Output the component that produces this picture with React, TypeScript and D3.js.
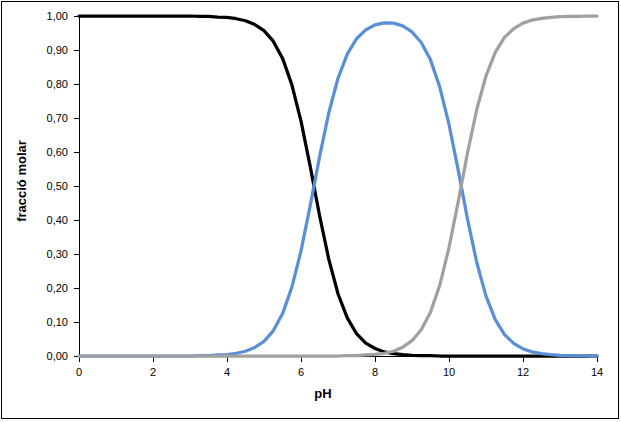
import React, { useEffect, useRef } from 'react';
import * as d3 from 'd3';

// pH values sampled every 0.25
const phValues = d3.range(0, 14.001, 0.25);

// H2CO3 fraction
const acidFraction = [
  1.000, 1.000, 1.000, 1.000, 1.000, 1.000, 1.000, 1.000, 1.000, 1.000, 1.000, 1.000,
  1.000, 0.999, 0.999, 0.997, 0.996, 0.992, 0.986, 0.975, 0.957, 0.926, 0.876, 0.799,
  0.691, 0.557, 0.414, 0.285, 0.183, 0.112, 0.066, 0.038, 0.022, 0.012, 0.007, 0.004,
  0.002, 0.001, 0.001, 0.000, 0.000, 0.000, 0.000, 0.000, 0.000, 0.000, 0.000, 0.000,
  0.000, 0.000, 0.000, 0.000, 0.000, 0.000, 0.000, 0.000, 0.000
];

// HCO3- fraction
const bicarbonateFraction = [
  0.000, 0.000, 0.000, 0.000, 0.000, 0.000, 0.000, 0.000, 0.000, 0.000, 0.000, 0.000,
  0.000, 0.001, 0.001, 0.003, 0.004, 0.008, 0.014, 0.025, 0.043, 0.074, 0.124, 0.201,
  0.309, 0.443, 0.585, 0.715, 0.817, 0.888, 0.933, 0.959, 0.974, 0.980, 0.979, 0.971,
  0.953, 0.922, 0.871, 0.791, 0.681, 0.546, 0.403, 0.275, 0.176, 0.107, 0.063, 0.037,
  0.021, 0.012, 0.007, 0.004, 0.002, 0.001, 0.001, 0.000, 0.000
];

// CO3 2- fraction
const carbonateFraction = [
  0.000, 0.000, 0.000, 0.000, 0.000, 0.000, 0.000, 0.000, 0.000, 0.000, 0.000, 0.000,
  0.000, 0.000, 0.000, 0.000, 0.000, 0.000, 0.000, 0.000, 0.000, 0.000, 0.000, 0.000,
  0.000, 0.000, 0.000, 0.000, 0.000, 0.001, 0.001, 0.003, 0.005, 0.008, 0.014, 0.026,
  0.045, 0.077, 0.129, 0.208, 0.319, 0.454, 0.597, 0.725, 0.824, 0.893, 0.937, 0.963,
  0.979, 0.988, 0.993, 0.996, 0.998, 0.999, 0.999, 1.000, 1.000
];

const xTicks = [0, 2, 4, 6, 8, 10, 12, 14];
const yTicks = [0, 0.1, 0.2, 0.3, 0.4, 0.5, 0.6, 0.7, 0.8, 0.9, 1.0];

const App = () => {
  const ref = useRef<SVGSVGElement>(null);

  useEffect(() => {
    const width = 621;
    const height = 422;
    const svg = d3.select(ref.current);
    svg.selectAll('*').remove();

    const x = d3.scaleLinear().domain([0, 14]).range([79, 597]);
    const y = d3.scaleLinear().domain([0, 1]).range([356, 16]);

    svg.append('rect')
      .attr('x', 1.5).attr('y', 1.5)
      .attr('width', 617).attr('height', 417)
      .attr('fill', 'white').attr('stroke', 'black').attr('stroke-width', 1);

    const font = 'Arial, "Liberation Sans", sans-serif';

    // y axis
    svg.append('line')
      .attr('x1', 79.5).attr('x2', 79.5).attr('y1', y(1)).attr('y2', y(0))
      .attr('stroke', 'black');
    yTicks.forEach(t => {
      svg.append('line')
        .attr('x1', 74).attr('x2', 79.5)
        .attr('y1', Math.round(y(t)) + 0.5).attr('y2', Math.round(y(t)) + 0.5)
        .attr('stroke', 'black');
      svg.append('text')
        .attr('x', 68).attr('y', y(t) + 4)
        .attr('text-anchor', 'end')
        .style('font-family', font).style('font-size', '11px')
        .text(d3.format('.2f')(t).replace('.', ','));
    });

    // x axis
    svg.append('line')
      .attr('x1', x(0)).attr('x2', x(14)).attr('y1', 356.5).attr('y2', 356.5)
      .attr('stroke', 'black');
    xTicks.forEach(t => {
      svg.append('line')
        .attr('x1', Math.round(x(t)) + 0.5).attr('x2', Math.round(x(t)) + 0.5)
        .attr('y1', 356.5).attr('y2', 362)
        .attr('stroke', 'black');
      svg.append('text')
        .attr('x', x(t)).attr('y', 376)
        .attr('text-anchor', 'middle')
        .style('font-family', font).style('font-size', '11px')
        .text(t);
    });

    const line = d3.line<number>()
      .x((_, i) => x(phValues[i]))
      .y(d => y(d));

    const series = [
      { values: acidFraction, color: '#000000' },
      { values: bicarbonateFraction, color: '#5a8fd6' },
      { values: carbonateFraction, color: '#a0a0a0' }
    ];

    series.forEach(s => {
      svg.append('path')
        .attr('d', line(s.values))
        .attr('fill', 'none')
        .attr('stroke', s.color)
        .attr('stroke-width', 3.25)
        .attr('stroke-linejoin', 'round')
        .attr('stroke-linecap', 'round');
    });

    svg.append('text')
      .attr('transform', 'translate(26,181) rotate(-90)')
      .attr('text-anchor', 'middle')
      .style('font-family', font).style('font-size', '13px').style('font-weight', 'bold')
      .text('fracció molar');

    svg.append('text')
      .attr('x', 323).attr('y', 398)
      .attr('text-anchor', 'middle')
      .style('font-family', font).style('font-size', '13px').style('font-weight', 'bold')
      .text('pH');

    svg.attr('width', width).attr('height', height);
  }, []);

  return (
    <svg ref={ref} style={{ position: 'absolute', left: 0, top: 0 }}></svg>
  );
};

export default App;
